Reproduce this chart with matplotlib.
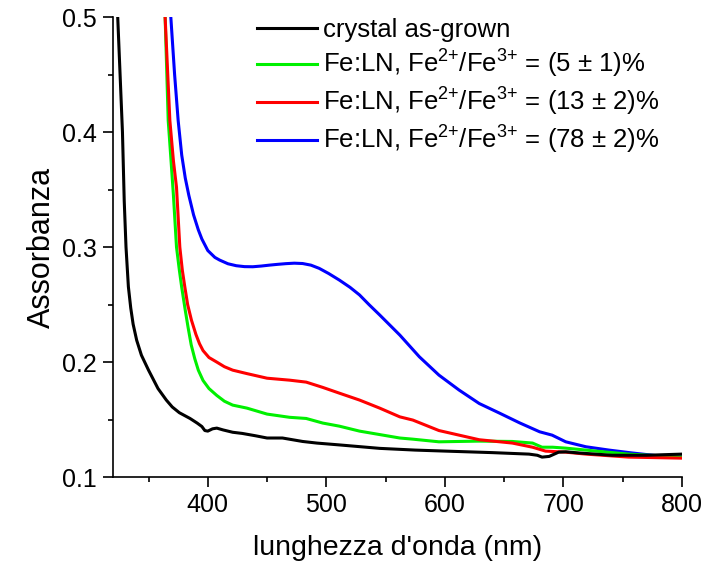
import matplotlib
matplotlib.use("Agg")
import matplotlib.pyplot as plt
from matplotlib.ticker import MultipleLocator

plt.rcParams['font.family'] = ['Liberation Sans', 'DejaVu Sans']
plt.rcParams['mathtext.fontset'] = 'custom'
plt.rcParams['mathtext.rm'] = 'Liberation Sans'
plt.rcParams['mathtext.it'] = 'Liberation Sans'

# spectra (wavelength nm, absorbance)
black_x = [322, 324, 326, 328, 329.5, 331, 333, 335, 337, 340, 344, 350, 358, 365, 370, 376,
           385, 391, 395, 397.5, 400, 404, 407.6, 413, 421, 429, 440, 450, 463, 480, 492, 511,
           545, 575, 601, 640, 671, 678, 682, 688, 696, 702, 713, 741, 770, 800]
black_y = [0.53, 0.50, 0.45, 0.40, 0.34, 0.30, 0.2655, 0.247, 0.233, 0.219, 0.206, 0.193,
           0.177, 0.167, 0.161, 0.156, 0.151, 0.147, 0.144, 0.1405, 0.140, 0.142, 0.1426,
           0.141, 0.139, 0.138, 0.136, 0.134, 0.134, 0.131, 0.1296, 0.128, 0.125, 0.1235,
           0.1226, 0.1213, 0.120, 0.119, 0.1174, 0.118, 0.1217, 0.122, 0.121, 0.119, 0.119,
           0.120]

green_x = [362, 364, 366.6, 369, 371, 373.6, 376, 378, 381, 383.4, 386, 389, 392, 396, 401,
           407.6, 414, 421, 433, 450, 469, 483, 497, 511, 528, 545, 562, 573, 595, 629, 657,
           674, 682, 691, 702, 728, 755, 800]
green_y = [0.53, 0.50, 0.41, 0.375, 0.345, 0.30, 0.28, 0.265, 0.245, 0.23, 0.215, 0.203,
           0.193, 0.184, 0.177, 0.171, 0.166, 0.1626, 0.160, 0.1548, 0.152, 0.151, 0.147,
           0.1443, 0.140, 0.137, 0.134, 0.133, 0.1307, 0.1313, 0.131, 0.1296, 0.126, 0.126,
           0.1252, 0.1226, 0.120, 0.1174]

red_x = [362, 364, 368, 371, 373.6, 376.4, 378.5, 380.6, 383, 386.2, 390, 393, 396, 401, 407.6,
         414, 421, 433, 450, 469, 483, 497, 511, 528, 545, 562, 573, 595, 629, 657, 674, 685,
         702, 719, 755, 800]
red_y = [0.53, 0.50, 0.41, 0.375, 0.352, 0.30, 0.28, 0.2655, 0.25, 0.2365, 0.224, 0.216, 0.210,
         0.204, 0.200, 0.196, 0.193, 0.190, 0.186, 0.1843, 0.1826, 0.178, 0.173, 0.167, 0.160,
         0.1524, 0.1496, 0.1405, 0.1325, 0.1296, 0.126, 0.1226, 0.1217, 0.120, 0.1174, 0.1165]

blue_x = [367, 368.8, 372, 375, 378, 381, 384, 388, 392, 395, 397.5, 400, 403, 406, 410, 417,
          424, 431, 438, 445, 452, 459, 466, 473, 480, 487, 494, 502, 511, 520, 528, 536, 545,
          562, 578.5, 595, 612, 629, 646, 663, 680, 690.5, 702, 719, 738.5, 758, 780, 800]
blue_y = [0.53, 0.50, 0.45, 0.41, 0.38, 0.36, 0.345, 0.328, 0.315, 0.307, 0.302, 0.297, 0.294,
          0.291, 0.2887, 0.2855, 0.2838, 0.2830, 0.2829, 0.2835, 0.2843, 0.285, 0.2856, 0.286,
          0.2857, 0.2843, 0.2815, 0.277, 0.2713, 0.265, 0.2584, 0.250, 0.241, 0.2235, 0.2046,
          0.1887, 0.1757, 0.164, 0.1557, 0.1472, 0.1394, 0.1365, 0.1307, 0.1264, 0.1235, 0.121,
          0.1185, 0.1174]

sup = r"Fe:LN, Fe$^{\text{2+}}$/Fe$^{\text{3+}}$ = "
labels = ["crystal as-grown",
          sup + "(5 ± 1)%",
          sup + "(13 ± 2)%",
          sup + "(78 ± 2)%"]

fig = plt.figure(figsize=(7.03, 5.68), dpi=100)
ax = fig.add_axes([0.1607, 0.160, 0.8093, 0.810])

lw = 2.2
ax.plot(black_x, black_y, color='black', lw=lw, label=labels[0], zorder=5)
ax.plot(green_x, green_y, color='#00f000', lw=lw, label=labels[1], zorder=3)
ax.plot(red_x, red_y, color='#ff0000', lw=lw, label=labels[2], zorder=4)
ax.plot(blue_x, blue_y, color='#0000ff', lw=lw, label=labels[3], zorder=2)

ax.set_xlim(320, 800)
ax.set_ylim(0.1, 0.5)
ax.xaxis.set_major_locator(MultipleLocator(100))
ax.xaxis.set_minor_locator(MultipleLocator(50))
ax.yaxis.set_major_locator(MultipleLocator(0.1))
ax.yaxis.set_minor_locator(MultipleLocator(0.05))
ax.spines['top'].set_visible(False)
ax.spines['right'].set_visible(False)
for s in ['left', 'bottom']:
    ax.spines[s].set_linewidth(1.2)
ax.tick_params(which='major', direction='out', length=7, width=1.2, labelsize=18, pad=4.5)
ax.tick_params(which='minor', direction='out', length=3.6, width=1.2)

ax.set_xlabel("lunghezza d'onda (nm)", fontsize=20.5, labelpad=13)
ax.set_ylabel("Assorbanza", fontsize=22, labelpad=4)

ax.legend(loc='upper left', bbox_to_anchor=(0.253, 0.997), frameon=False, fontsize=18.5,
          handlelength=2.33, handletextpad=0.23, labelspacing=0.22, borderpad=0,
          borderaxespad=0)

fig.savefig("out.png", dpi=100)
